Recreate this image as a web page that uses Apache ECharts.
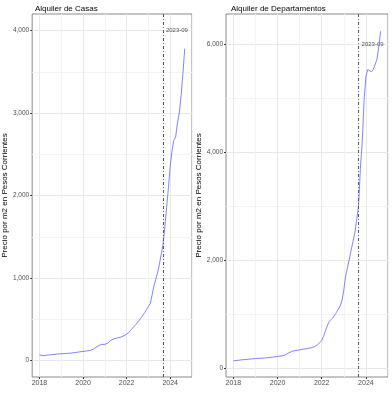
<!DOCTYPE html>
<html>
<head>
<meta charset="utf-8">
<script src="https://cdn.jsdelivr.net/npm/echarts@6/dist/echarts.min.js"></script>
<style>
html,body{margin:0;padding:0;background:#fff;}
#chart{width:392px;height:400px;}
</style>
</head>
<body>
<div id="chart"></div>
<script>
// ---- data ----
const firstMonth = '2018-01';
const lastMonth = '2024-09';
const casas = [
  69, 62, 57, 60, 64, 67, 69, 71, 73, 76, 79, 81,
  82, 84, 85, 86, 87, 89, 92, 95, 98, 101, 104, 107,
  110, 113, 116, 119, 122, 128, 142, 158, 172, 185, 195, 205,
  195, 193, 215, 240, 255, 262, 268, 274, 280, 285, 290, 305,
  320, 335, 360, 385, 410, 435, 460, 490, 520, 550, 580, 620,
  655, 690, 790, 900, 980, 1060, 1160, 1280, 1400, 1610, 1850, 2085,
  2355, 2540, 2670, 2710, 2880, 3000, 3210, 3480, 3780
];
const deptos = [
  135, 138, 142, 146, 150, 154, 158, 161, 164, 167, 170, 174,
  177, 179, 181, 183, 185, 188, 191, 194, 198, 202, 206, 211,
  216, 220, 225, 232, 240, 250, 280, 300, 313, 320, 326, 333,
  338, 344, 350, 356, 362, 368, 374, 382, 395, 415, 440, 470,
  510, 590, 690, 780, 863, 900, 930, 965, 1030, 1090, 1150, 1250,
  1450, 1710, 1866, 2020, 2190, 2345, 2510, 2750, 3000, 3700, 4180, 4960,
  5400, 5530, 5560, 5490, 5530, 5560, 5720, 5960, 6240
];
const panelTitles = ['Alquiler de Casas', 'Alquiler de Departamentos'];
const yAxisTitle = 'Precio por m2 en Pesos Corrientes';
const xTicks = [2018, 2020, 2022, 2024];
const xMinorTicks = [2019, 2021, 2023, 2025];
const yTicksCasas = [0, 1000, 2000, 3000, 4000];
const yMinorCasas = [500, 1500, 2500, 3500];
const yTicksDeptos = [0, 2000, 4000, 6000];
const yMinorDeptos = [1000, 3000, 5000];
const vlineMonth = '2023-09';
const vlineLabelY = [4000, 6000];

// ---- helpers ----
function monthToYear(s) { const [y, m] = s.split('-').map(Number); return y + (m - 1) / 12; }
const months = [];
(function () {
  let [y, m] = firstMonth.split('-').map(Number);
  const [ly, lm] = lastMonth.split('-').map(Number);
  while (y < ly || (y === ly && m <= lm)) {
    months.push(y + '-' + String(m).padStart(2, '0'));
    m++; if (m > 12) { m = 1; y++; }
  }
})();
const xs = months.map(monthToYear);
const vx = monthToYear(vlineMonth);
const fmt = v => v.toLocaleString('en-US');

const FONT = 'Liberation Sans, Arial, sans-serif';
const panels = [
  { left: 30, vals: casas, ymin: -200, ymax: 4200, ticks: yTicksCasas, minor: yMinorCasas, lab: vlineLabelY[0] },
  { left: 226, vals: deptos, ymin: -165, ymax: 6560, ticks: yTicksDeptos, minor: yMinorDeptos, lab: vlineLabelY[1] }
];

const grid = [], xAxis = [], yAxis = [], series = [], title = [];
panels.forEach((p, i) => {
  grid.push({ left: p.left, width: 162, top: 14, height: 363, show: true, borderColor: '#8a8a8a', borderWidth: 1, backgroundColor: 'transparent', containLabel: false });
  title.push({ text: panelTitles[i], left: p.left, top: 0, textStyle: { fontFamily: FONT, fontSize: 8, fontWeight: 'normal', color: '#000' } });
  // minor axes (for minor grid)
  xAxis.push({ type: 'value', gridIndex: i, min: 2017 + 2 / 3, max: 2025, axisLine: { show: false, onZero: false }, axisLabel: { show: false },
    axisTick: { show: false, customValues: xMinorTicks }, splitLine: { show: true, lineStyle: { color: '#f3f3f3', width: 1 } } });
  yAxis.push({ type: 'value', gridIndex: i, min: p.ymin, max: p.ymax, axisLine: { show: false, onZero: false }, axisLabel: { show: false },
    axisTick: { show: false, customValues: p.minor }, splitLine: { show: true, lineStyle: { color: '#f3f3f3', width: 1 } } });
  // major axes
  xAxis.push({ type: 'value', gridIndex: i, min: 2017 + 2 / 3, max: 2025, position: 'bottom',
    axisLine: { show: false, onZero: false },
    axisTick: { show: true, length: 2, customValues: xTicks, lineStyle: { color: '#333' } },
    axisLabel: { show: true, customValues: xTicks, formatter: v => String(Math.round(v)), fontFamily: FONT, fontSize: 7, color: '#4d4d4d', margin: 3 },
    splitLine: { show: true, lineStyle: { color: '#e8e8e8', width: 1 } } });
  yAxis.push({ type: 'value', gridIndex: i, min: p.ymin, max: p.ymax, position: 'left',
    name: yAxisTitle, nameLocation: 'middle', nameGap: 22, nameRotate: 90,
    nameTextStyle: { fontFamily: FONT, fontSize: 8, color: '#000' },
    axisLine: { show: false, onZero: false },
    axisTick: { show: true, length: 2, customValues: p.ticks, lineStyle: { color: '#333' } },
    axisLabel: { show: true, customValues: p.ticks, formatter: v => fmt(v), fontFamily: FONT, fontSize: 6.5, color: '#4d4d4d', margin: 3 },
    splitLine: { show: true, lineStyle: { color: '#e8e8e8', width: 1 } } });
  series.push({
    type: 'line', xAxisIndex: 2 * i + 1, yAxisIndex: 2 * i + 1,
    data: xs.map((x, k) => [x, p.vals[k]]), showSymbol: false, symbol: 'none',
    lineStyle: { color: '#7474ff', width: 0.9 }, animation: false,
    markLine: { silent: true, symbol: 'none', animation: false, label: { show: false },
      lineStyle: { color: '#555', width: 1, type: [3, 2, 1, 2] }, data: [{ xAxis: vx }] }
  });
  series.push({
    type: 'scatter', xAxisIndex: 2 * i + 1, yAxisIndex: 2 * i + 1, symbolSize: 0, animation: false, silent: true,
    data: [[vx, p.lab]],
    label: { show: true, position: 'right', distance: 3, formatter: vlineMonth, fontFamily: FONT, fontSize: 6, color: '#222' }
  });
});

const chart = echarts.init(document.getElementById('chart'), null, { renderer: 'canvas' });
chart.setOption({ animation: false, backgroundColor: '#fff', title, grid, xAxis, yAxis, series });
</script>
</body>
</html>
